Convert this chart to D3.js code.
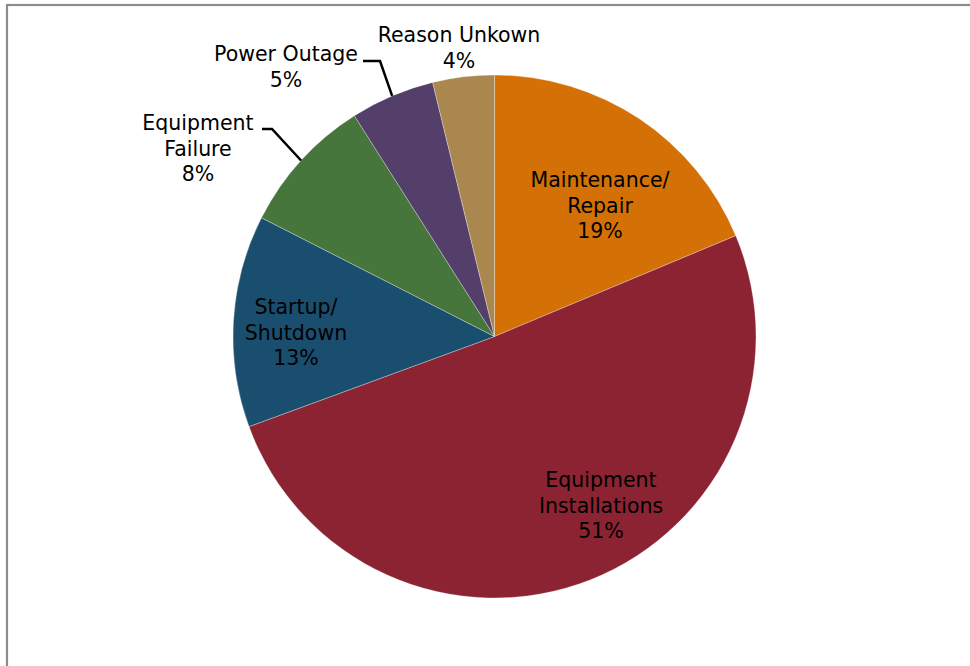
<!DOCTYPE html>
<meta charset="utf-8">
<style>
body { margin: 0; background: #fff; }
.lbl { font-family: "DejaVu Sans", Verdana, sans-serif; font-size: 20.5px; fill: #000; }
.leader { fill: none; stroke: #000; stroke-width: 2.5px; }
</style>
<svg width="970" height="666"></svg>
<script src="https://d3js.org/d3.v7.min.js"></script>
<script>

// data (shares in percent)
var categories = ["Maintenance/Repair", "Equipment Installations", "Startup/Shutdown",
                  "Equipment Failure", "Power Outage", "Reason Unkown"];
var values = [18.7, 50.7, 13.1, 8.5, 5.2, 3.8];
var labelLines = [["Maintenance/", "Repair", "19%"],
                  ["Equipment", "Installations", "51%"],
                  ["Startup/", "Shutdown", "13%"],
                  ["Equipment", "Failure", "8%"],
                  ["Power Outage", "5%"],
                  ["Reason Unkown", "4%"]];
var colors = ["#D47106", "#8B2332", "#1A4E6E", "#46763B", "#533F6A", "#A9874F"];

// label layout (center x, first baseline y) and leader elbows
var labelPos = [[600, 187], [601, 487], [296, 314], [198, 130], [286, 61], [459, 42]];
var leaders = {3: {x0: 262, x1: 272, y: 129}, 4: {x0: 363, x1: 380, y: 61}};

var svg = d3.select("svg"),
    cx = 494.5, cy = 336.5, radius = 261.5,
    lineH = 25.5;

svg.append("rect")
    .attr("x", 7).attr("y", 5)
    .attr("width", 1000).attr("height", 700)
    .attr("fill", "none")
    .attr("stroke", "#8c8c8c")
    .attr("stroke-width", 2.2);

var pie = d3.pie().sort(null).value(function(d) { return d; });
var arc = d3.arc().innerRadius(0).outerRadius(radius);

var arcs = pie(values);

var g = svg.append("g").attr("transform", "translate(" + cx + "," + cy + ")");

g.selectAll("path.slice")
    .data(arcs)
  .enter().append("path")
    .attr("class", "slice")
    .attr("d", arc)
    .attr("fill", function(d, i) { return colors[i]; })
    .attr("stroke", "#fff")
    .attr("stroke-opacity", 0.5)
    .attr("stroke-width", 0.6);

// leader lines for outside labels
Object.keys(leaders).forEach(function(k) {
  var a = arcs[k], L = leaders[k];
  var mid = (a.startAngle + a.endAngle) / 2;
  var ex = cx + radius * Math.sin(mid), ey = cy - radius * Math.cos(mid);
  svg.append("polyline")
      .attr("class", "leader")
      .attr("points", [[L.x0, L.y], [L.x1, L.y], [ex, ey]].map(function(p) { return p.join(","); }).join(" "));
});

var labels = svg.selectAll("text.lbl")
    .data(labelLines)
  .enter().append("text")
    .attr("class", "lbl")
    .attr("text-anchor", "middle")
    .attr("x", function(d, i) { return labelPos[i][0]; })
    .attr("y", function(d, i) { return labelPos[i][1]; });

labels.each(function(lines, i) {
  var t = d3.select(this);
  lines.forEach(function(s, j) {
    t.append("tspan")
        .attr("x", labelPos[i][0])
        .attr("y", labelPos[i][1] + j * lineH)
        .text(s);
  });
});

</script>
